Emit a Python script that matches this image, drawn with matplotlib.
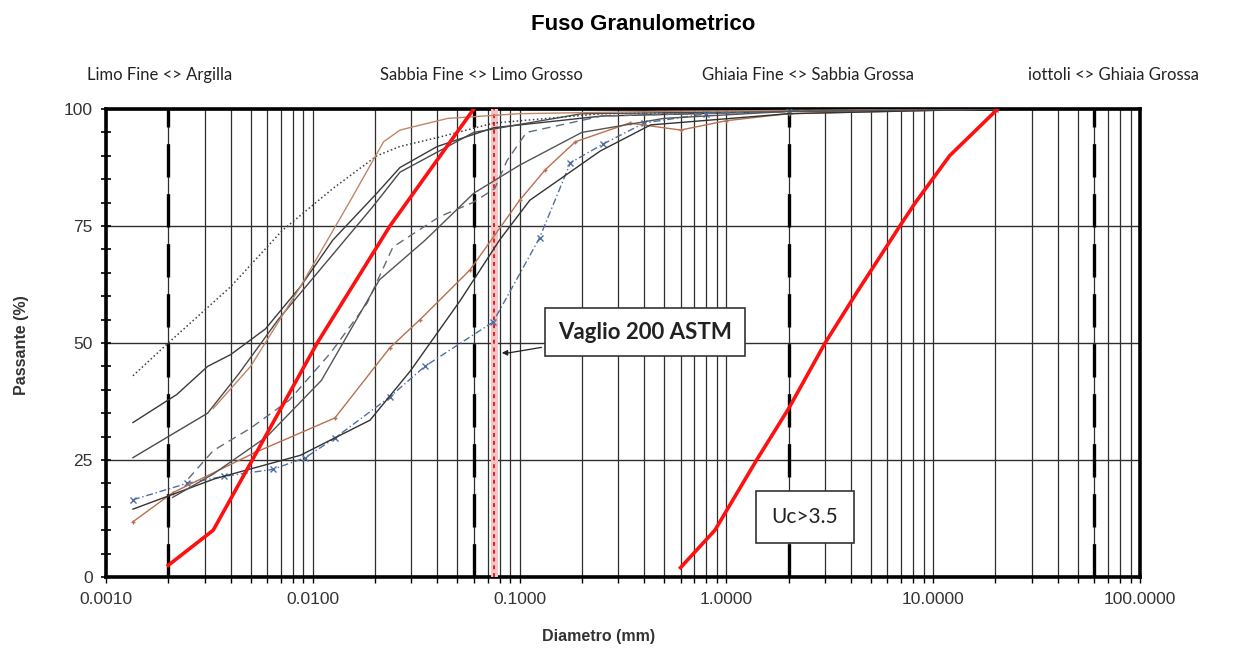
import matplotlib
matplotlib.use("Agg")
import matplotlib.pyplot as plt
from matplotlib import ticker

# fuso (envelope) limits, diameter in mm / passante in %
fuso_fine_x = [0.002, 0.0033, 0.0051, 0.0105, 0.0236, 0.06]
fuso_fine_y = [2.5, 10, 25, 50, 75, 100]
fuso_coarse_x = [0.6, 0.88, 1.4, 2.0, 3.0, 4.3, 6.9, 8.2, 12, 20.5]
fuso_coarse_y = [2, 10, 25, 36, 50, 61, 75, 80, 90, 100]

# campioni (sample curves)
c1_x = [0.00135, 0.002, 0.004, 0.0071, 0.0125, 0.0204, 0.0264, 0.041, 0.075, 0.25, 2, 20]
c1_y = [43, 50, 62, 74, 83, 90, 92, 94, 97, 99, 99.5, 100]
c2_x = [0.00135, 0.0022, 0.0031, 0.004, 0.0059, 0.0087, 0.0125, 0.0204, 0.0264, 0.04, 0.075, 0.25, 2, 20]
c2_y = [33, 39, 45, 47.5, 53, 62, 72, 82, 87.5, 92, 96, 98.5, 99.5, 100]
c3_x = [0.00135, 0.002, 0.0031, 0.0044, 0.0068, 0.011, 0.0194, 0.0264, 0.06, 0.2, 2, 20]
c3_y = [25.5, 30, 35, 43.5, 55, 66, 79, 86.5, 95, 99, 99.5, 100]
c4_x = [0.0033, 0.005, 0.0087, 0.015, 0.022, 0.0264, 0.045, 0.1, 0.5, 20]
c4_y = [36, 45, 62, 80, 93, 95.5, 98, 99, 99.5, 100]
c5_x = [0.00135, 0.00246, 0.0037, 0.0064, 0.0092, 0.0128, 0.0236, 0.0348, 0.0745, 0.125, 0.176, 0.253, 0.4, 0.8, 2, 20]
c5_y = [16.5, 20, 21.5, 23, 25.5, 29.7, 38.5, 45, 54.5, 72.5, 88.5, 92.5, 97, 99, 99.5, 100]
c6_x = [0.0025, 0.0033, 0.005, 0.0077, 0.0122, 0.0183, 0.0244, 0.041, 0.0594, 0.0758, 0.087, 0.108, 0.25, 2, 20]
c6_y = [21, 27, 31.8, 37.8, 47.9, 58.5, 70.5, 77, 80, 83, 89, 95, 98.5, 99.5, 100]
c7_x = [0.00135, 0.0021, 0.0052, 0.0128, 0.0236, 0.033, 0.0575, 0.1, 0.133, 0.186, 0.34, 0.6, 1.0, 2, 20]
c7_y = [11.8, 18, 26.5, 34, 49, 55, 65.6, 80.5, 87, 93, 97, 95.5, 97.5, 99, 100]
c8_x = [0.00135, 0.00336, 0.0087, 0.0189, 0.0296, 0.0515, 0.08, 0.112, 0.245, 0.43, 2, 20]
c8_y = [14.5, 21, 26, 33.5, 44, 59, 72, 80.5, 91, 96.6, 99, 100]
c9_x = [0.0021, 0.0033, 0.006, 0.011, 0.021, 0.035, 0.06, 0.1, 0.2, 0.5, 2, 20]
c9_y = [17, 22, 30, 42, 63.5, 72, 82, 88, 95, 98, 99.5, 100]

# class boundaries and sieve
limiti_mm = [0.002, 0.06, 2, 60]
limiti_label = ["Limo Fine <> Argilla", "Sabbia Fine <> Limo Grosso",
                "Ghiaia Fine <> Sabbia Grossa", "iottoli <> Ghiaia Grossa"]
limiti_label_px = [160, 481, 808, 1114]
vaglio_200 = 0.075

W, H = 1236, 649
fig = plt.figure(figsize=(W / 100, H / 100), dpi=100)
ax = fig.add_axes([106 / W, 72 / H, 1034 / W, 468 / H])

ax.set_xscale("log")
ax.set_xlim(0.001, 100)
ax.set_ylim(0, 100)

ax.xaxis.set_major_locator(ticker.LogLocator(base=10, numticks=10))
ax.xaxis.set_minor_locator(ticker.LogLocator(base=10, subs=range(2, 10), numticks=20))
ax.xaxis.set_major_formatter(ticker.FormatStrFormatter("%.4f"))
ax.xaxis.set_minor_formatter(ticker.NullFormatter())
ax.set_yticks([0, 25, 50, 75, 100])
ax.yaxis.set_minor_locator(ticker.MultipleLocator(5))

ax.grid(True, which="both", axis="x", color="#2e2e2e", lw=0.9)
ax.grid(True, which="major", axis="y", color="#2e2e2e", lw=1.0)

ax.tick_params(axis="x", which="both", direction="out", length=4, width=1.0, pad=7)
ax.tick_params(axis="y", which="both", direction="inout", length=7, width=1.2, pad=6)
for lab in ax.get_xticklabels() + ax.get_yticklabels():
    lab.set_family("Liberation Sans")
    lab.set_fontsize(12.5)
    lab.set_color("#333333")
for sp in ax.spines.values():
    sp.set_linewidth(2.6)

# boundaries
for x in limiti_mm:
    ax.axvline(x, color="black", lw=2.4, ls=(0, (10, 5)), zorder=3)
ax.axvline(vaglio_200, color="#f6c4c4", lw=5, zorder=3)
ax.axvline(vaglio_200, color="#e02020", lw=1.4, ls=(0, (2, 2)), zorder=4)

# sample curves
ax.plot(c1_x, c1_y, color="#404040", lw=1.1, ls=":", zorder=5)
ax.plot(c2_x, c2_y, color="#3a3a3a", lw=1.0, zorder=5)
ax.plot(c3_x, c3_y, color="#4a4a4a", lw=1.0, zorder=5)
ax.plot(c4_x, c4_y, color="#c08668", lw=1.0, zorder=5)
ax.plot(c5_x, c5_y, color="#4f6fa0", lw=1.0, ls=(0, (5, 2, 1, 2)), marker="x", ms=5, zorder=5)
ax.plot(c6_x, c6_y, color="#5e6e7e", lw=1.0, ls=(0, (6, 4)), zorder=5)
ax.plot(c7_x, c7_y, color="#b87050", lw=1.0, marker="+", ms=3, zorder=5)
ax.plot(c8_x, c8_y, color="#333333", lw=1.0, zorder=5)
ax.plot(c9_x, c9_y, color="#555555", lw=1.0, zorder=5)

# fuso
ax.plot(fuso_fine_x, fuso_fine_y, color="#ff1010", lw=2.6, zorder=6)
ax.plot(fuso_coarse_x, fuso_coarse_y, color="#ff1010", lw=2.6, zorder=6)

ax.annotate("Vaglio 200 ASTM", xy=(0.0795, 47.9), xycoords="data",
            xytext=(0.5213, 0.5235), textcoords="axes fraction",
            ha="center", va="center", fontsize=16, weight="bold", family="Lato", color="#222222",
            bbox=dict(boxstyle="square,pad=0.6", fc="white", ec="#333333", lw=1.2),
            arrowprops=dict(arrowstyle="-|>", color="#222222", lw=0.9, mutation_scale=8,
                            connectionstyle="arc,angleA=180,angleB=0,armA=12,armB=10,rad=0"),
            zorder=8)
ax.text(0.676, 0.128, "Uc>3.5", transform=ax.transAxes, ha="center", va="center",
        fontsize=15, family="Lato", color="#222222", zorder=8,
        bbox=dict(boxstyle="square,pad=0.75", fc="white", ec="#333333", lw=1.2))

for lab, px in zip(limiti_label, limiti_label_px):
    fig.text(px / W, 1 - 75 / H, lab, ha="center", va="center", fontsize=12,
             family="Lato", color="#222222")

fig.text(643 / W, 1 - 25 / H, "Fuso Granulometrico", ha="center", va="center",
         fontsize=16, weight="bold", family="Liberation Sans")
fig.text(599 / W, 1 - 637 / H, "Diametro (mm)", ha="center", va="center",
         fontsize=11.5, weight="bold", family="Liberation Sans", color="#333333")
fig.text(22 / W, 1 - 345 / H, "Passante (%)", ha="center", va="center", rotation=90,
         fontsize=11.5, weight="bold", family="Liberation Sans", color="#333333")

fig.savefig("out.png", dpi=100)
